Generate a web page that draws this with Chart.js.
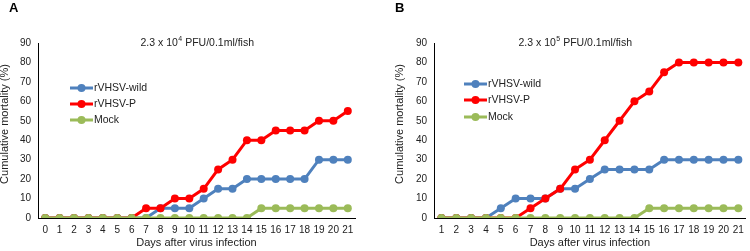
<!DOCTYPE html>
<html>
<head>
<meta charset="utf-8">
<script src="https://cdn.jsdelivr.net/npm/chart.js@4/dist/chart.umd.min.js"></script>
<style>
	html, body { margin: 0; padding: 0; background: #fff; }
	#wrap { position: relative; width: 750px; height: 251px; overflow: hidden; }
	canvas { position: absolute; top: 0; }
</style>
</head>
<body>
<div id="wrap">
	<canvas id="chartA" width="375" height="251" style="left:0"></canvas>
	<canvas id="chartB" width="375" height="251" style="left:375px"></canvas>
</div>
<script>
// panel A: 2.3 x 10^4 PFU
var daysA = ['0', '1', '2', '3', '4', '5', '6', '7', '8', '9', '10', '11', '12', '13', '14', '15', '16', '17', '18', '19', '20', '21'];
var wildA = [0, 0, 0, 0, 0, 0, 0, 0, 5, 5, 5, 10, 15, 15, 20, 20, 20, 20, 20, 30, 30, 30];
var pA = [0, 0, 0, 0, 0, 0, 0, 5, 5, 10, 10, 15, 25, 30, 40, 40, 45, 45, 45, 50, 50, 55];
var mockA = [0, 0, 0, 0, 0, 0, 0, 0, 0, 0, 0, 0, 0, 0, 0, 5, 5, 5, 5, 5, 5, 5];

// panel B: 2.3 x 10^5 PFU
var daysB = ['1', '2', '3', '4', '5', '6', '7', '8', '9', '10', '11', '12', '13', '14', '15', '16', '17', '18', '19', '20', '21'];
var wildB = [0, 0, 0, 0, 5, 10, 10, 10, 15, 15, 20, 25, 25, 25, 25, 30, 30, 30, 30, 30, 30];
var pB = [0, 0, 0, 0, 0, 0, 5, 10, 15, 25, 30, 40, 50, 60, 65, 75, 80, 80, 80, 80, 80];
var mockB = [0, 0, 0, 0, 0, 0, 0, 0, 0, 0, 0, 0, 0, 0, 5, 5, 5, 5, 5, 5, 5];

var seriesNames = ['rVHSV-wild', 'rVHSV-P', 'Mock'];
var yTicks = [0, 10, 20, 30, 40, 50, 60, 70, 80, 90];

var cores = {
	azul: '#4F81BD',
	vermelho: '#FF0000',
	verde: '#9BBB59',
	texto: '#222222'
};
var fonte = "'Liberation Sans', Arial, sans-serif";

function linha(label, dados, cor, ordem) {
	return {
		label: label,
		data: dados,
		borderColor: cor,
		backgroundColor: cor,
		pointBackgroundColor: cor,
		pointBorderColor: cor,
		pointRadius: 4,
		pointBorderWidth: 0,
		borderWidth: 3,
		tension: 0,
		order: ordem
	};
}

// draws panel letter, title, y title and legend
function textosPlugin(cfg) {
	return {
		id: 'textos',
		afterDraw: function (chart) {
			var ctx = chart.ctx;
			ctx.save();
			ctx.fillStyle = '#000';
			ctx.font = 'bold 13px ' + fonte;
			ctx.textBaseline = 'middle';
			ctx.textAlign = 'left';
			ctx.fillText(cfg.letra, cfg.letraX, 8);

			// title with superscript
			ctx.fillStyle = cores.texto;
			var t1 = '2.3 x 10', t3 = ' PFU/0.1ml/fish';
			ctx.font = '10.5px ' + fonte;
			var w1 = ctx.measureText(t1).width, w3 = ctx.measureText(t3).width;
			ctx.font = '7px ' + fonte;
			var w2 = ctx.measureText(cfg.expoente).width;
			var x0 = cfg.tituloX - (w1 + w2 + w3) / 2;
			ctx.font = '10.5px ' + fonte;
			ctx.fillText(t1, x0, 43);
			ctx.font = '7px ' + fonte;
			ctx.fillText(cfg.expoente, x0 + w1 + 0.5, 39);
			ctx.font = '10.5px ' + fonte;
			ctx.fillText(t3, x0 + w1 + w2 + 0.5, 43);

			// y title
			ctx.save();
			ctx.translate(cfg.yTituloX, 124);
			ctx.rotate(-Math.PI / 2);
			ctx.textAlign = 'center';
			ctx.font = '11px ' + fonte;
			ctx.fillText('Cumulative mortality (%)', 0, 0);
			ctx.restore();

			// legend
			var coresLeg = [cores.azul, cores.vermelho, cores.verde];
			ctx.font = '10.5px ' + fonte;
			ctx.textAlign = 'left';
			for (var i = 0; i < seriesNames.length; i++) {
				var y = cfg.legY[i];
				ctx.strokeStyle = coresLeg[i];
				ctx.lineWidth = 3;
				ctx.beginPath();
				ctx.moveTo(cfg.legX, y);
				ctx.lineTo(cfg.legX + 23, y);
				ctx.stroke();
				ctx.fillStyle = coresLeg[i];
				ctx.beginPath();
				ctx.arc(cfg.legX + 11.5, y, 4, 0, Math.PI * 2);
				ctx.fill();
				ctx.fillStyle = cores.texto;
				ctx.fillText(seriesNames[i], cfg.legX + 24, y);
			}
			ctx.restore();
		}
	};
}

function montaGrafico(id, dias, wild, p, mock, cfg) {
	var config = {
		type: 'line',
		data: {
			labels: dias,
			datasets: [
				linha(seriesNames[0], wild, cores.azul, 2),
				linha(seriesNames[1], p, cores.vermelho, 1),
				linha(seriesNames[2], mock, cores.verde, 0)
			]
		},
		options: {
			responsive: false,
			animation: false,
			layout: {
				padding: { left: 0, right: cfg.padDir, top: 43, bottom: 0 }
			},
			plugins: {
				legend: { display: false },
				title: { display: false },
				tooltip: { enabled: false }
			},
			scales: {
				x: {
					offset: true,
					grid: { display: false, drawTicks: false },
					border: { display: true, color: '#000', width: 1 },
					ticks: {
						color: cores.texto,
						font: { family: fonte, size: 10 },
						padding: 6,
						maxRotation: 0,
						autoSkip: false
					},
					title: {
						display: true,
						text: 'Days after virus infection',
						color: cores.texto,
						font: { family: fonte, size: 11 },
						padding: { top: 0, bottom: 1 }
					},
					afterFit: function (scale) { scale.height = 33; }
				},
				y: {
					min: 0,
					max: 90,
					afterBuildTicks: function (scale) {
						scale.ticks = yTicks.map(function (v) { return { value: v }; });
					},
					grid: { display: false, drawTicks: false },
					border: { display: true, color: '#000', width: 1 },
					ticks: {
						color: cores.texto,
						font: { family: fonte, size: 10 },
						padding: 7
					},
					afterFit: function (scale) { scale.width = cfg.yLargura; }
				}
			}
		},
		plugins: [textosPlugin(cfg)]
	};
	var ctx = document.getElementById(id).getContext('2d');
	return new Chart(ctx, config);
}

montaGrafico('chartA', daysA, wildA, pA, mockA, {
	letra: 'A', letraX: 9, expoente: '4', tituloX: 197, yTituloX: 5,
	legX: 70, legY: [88, 104, 120], padDir: 20, yLargura: 38
});
montaGrafico('chartB', daysB, wildB, pB, mockB, {
	letra: 'B', letraX: 20, expoente: '5', tituloX: 200, yTituloX: 25,
	legX: 89, legY: [84, 100, 117], padDir: 2, yLargura: 59
});
</script>
</body>
</html>
